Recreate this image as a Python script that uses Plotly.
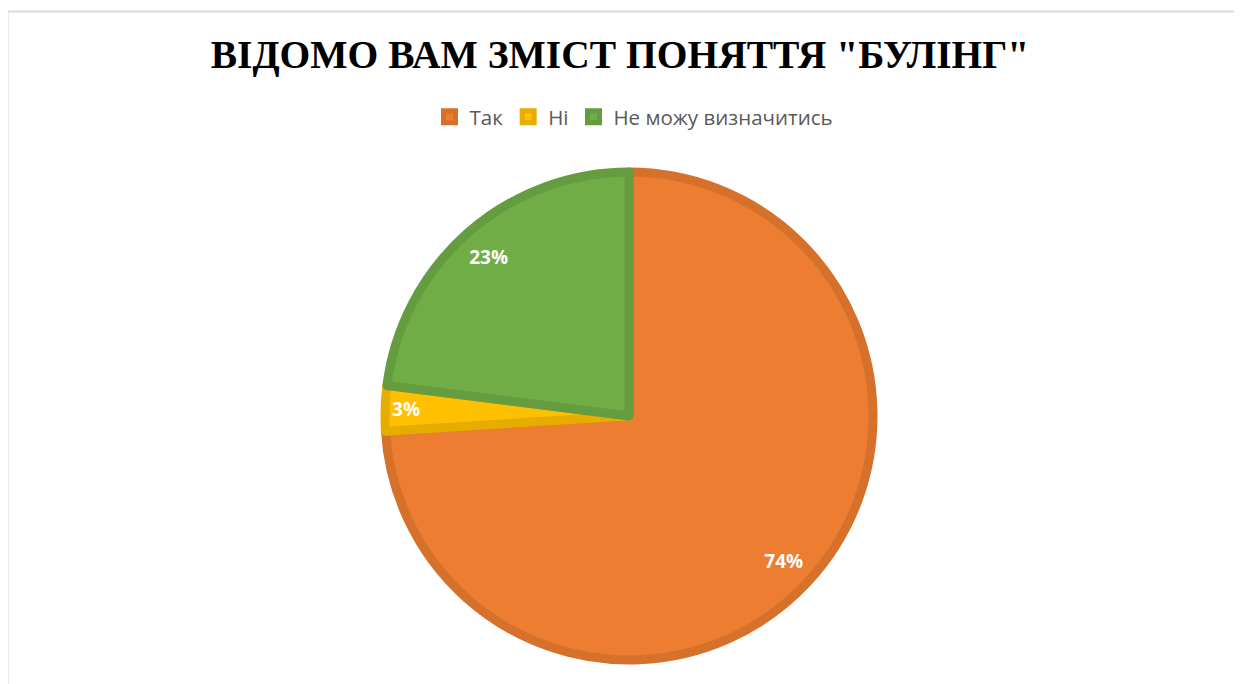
import plotly.graph_objects as go

labels = ["Так", "Ні", "Не можу визначитись"]
values = [74, 3, 23]
fill_colors = ["#ED7D31", "#FFC000", "#70AD47"]
edge_colors = ["#D6712B", "#E6AD00", "#659C40"]
title_text = 'ВІДОМО ВАМ ЗМІСТ ПОНЯТТЯ "БУЛІНГ"'

W, H = 1242, 684
OFF = 8  # page body margin offset
cx, cy, R = 629 - OFF, 416 - OFF, 244

dom_x = [(cx - R) / W, (cx + R) / W]
dom_y = [1 - (cy + R) / H, 1 - (cy - R) / H]

fig = go.Figure()
fig.add_trace(go.Pie(
    labels=labels, values=values, sort=False, direction="clockwise", rotation=0,
    marker=dict(colors=fill_colors, line=dict(color=edge_colors, width=9)),
    textinfo="none", hoverinfo="label+percent", domain=dict(x=dom_x, y=dom_y),
    showlegend=True,
))
# transparent ring to place the percentage labels near the rim
fig.add_trace(go.Pie(
    labels=labels, values=values, sort=False, direction="clockwise", rotation=0,
    hole=0.74,
    marker=dict(colors=["rgba(0,0,0,0)"] * 3, line=dict(width=0)),
    texttemplate="%{percent:.0%}", textposition="inside", insidetextorientation="horizontal",
    textfont=dict(family="Open Sans, Liberation Sans, sans-serif", size=19, color="white", weight="bold"),
    hoverinfo="skip", domain=dict(x=dom_x, y=dom_y), showlegend=False,
))

fig.update_layout(
    width=W, height=H,
    margin=dict(l=0, r=0, t=0, b=0),
    paper_bgcolor="white",
    title=dict(text="<b>" + title_text + "</b>", x=(620 - OFF) / W, xanchor="center",
               y=1 - (54 - OFF) / H, yanchor="middle",
               font=dict(family="Liberation Serif, Times New Roman, serif", size=39.5, color="black")),
    legend=dict(orientation="h", x=(634 - OFF) / W, xanchor="center", y=1 - (117 - OFF) / H, yanchor="middle",
                font=dict(family="Open Sans, sans-serif", size=20.5, color="#595959"),
                itemclick=False, itemdoubleclick=False, tracegroupgap=0),
    shapes=[dict(type="rect", xref="paper", yref="paper",
                 x0=(6.5 - OFF + 1) / W, x1=1.02, y0=-0.02, y1=1 - (11.5 - OFF) / H,
                 line=dict(color="#D9D9D9", width=2), fillcolor="rgba(0,0,0,0)", layer="below")],
)

fig.write_html("out.html")
